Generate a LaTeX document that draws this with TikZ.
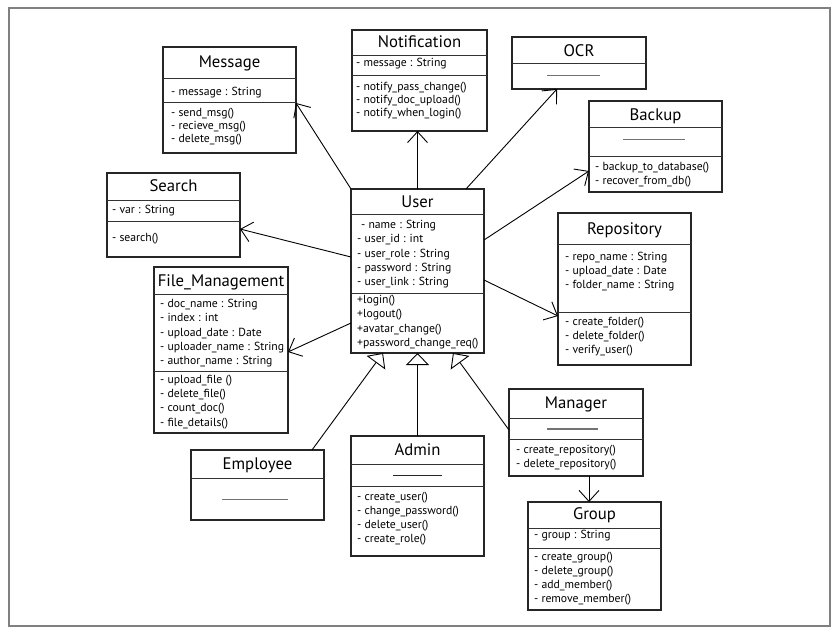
\documentclass[tikz,border=0pt]{standalone}
\usepackage{fontspec}
\setmainfont{PT Sans}
\usetikzlibrary{arrows.meta}
\begin{document}
\begin{tikzpicture}[x=1pt,y=-1pt,
  box/.style={draw=black!85,line width=1.1pt,inner sep=0pt,outer sep=0pt,anchor=north west},
  sepl/.style={draw=black!80,line width=1pt},
  blank/.style={draw=black!55,line width=1.4pt},
  blankdark/.style={draw=black!85,line width=1.1pt},
  frame/.style={draw=black!50,line width=2pt},
  ttl/.style={font=\fontsize{16.7}{20}\selectfont,anchor=base,inner sep=0pt},
  txt/.style={font=\fontsize{11.7}{13}\selectfont,anchor=base west,inner sep=0pt},
  assoc/.style={draw=black,line width=0.9pt,-{Straight Barb[length=11pt,width=20pt]}},
  gen/.style={draw=black,line width=0.9pt,-{Triangle[open,length=12pt,width=23pt,fill=white]}},
]
\useasboundingbox (0,0) rectangle (839,633);
\draw[frame] (8.5,8) rectangle (829.5,625.5);

% ---------- Message
\node[box,minimum width=133pt,minimum height=106pt] (msg) at (163,47) {};
\draw[sepl] (163,78) -- (296,78);
\draw[sepl] (163,102) -- (296,102);
\node[ttl] (msg-t) at (229.5,67.5) {Message};
\node[txt] (msg-a1) at (171,95) {- message : String};
\foreach \t [count=\i] in {- send\_msg(), - recieve\_msg(), - delete\_msg()}
  \node[txt] (msg-m\i) at (171,{116+13.2*(\i-1)}) {\t};

% ---------- Notification
\node[box,minimum width=135pt,minimum height=101pt] (notif) at (352,30) {};
\draw[sepl] (352,55) -- (487,55);
\draw[sepl] (352,75) -- (487,75);
\node[ttl] (notif-t) at (419.5,47.3) {Notification};
\node[txt] (notif-a1) at (356,66.7) {- message : String};
\foreach \t [count=\i] in {- notify\_pass\_change(), - notify\_doc\_upload(), - notify\_when\_login()}
  \node[txt] (notif-m\i) at (356,{90+13.4*(\i-1)}) {\t};

% ---------- OCR
\node[box,minimum width=134pt,minimum height=52pt] (ocr) at (512,37) {};
\draw[sepl] (512,63) -- (646,63);
\node[ttl] (ocr-t) at (579,56.7) {OCR};
\draw[blank] (547,75.7) -- (600,75.7);

% ---------- Backup
\node[box,minimum width=133pt,minimum height=91pt] (backup) at (589,101) {};
\draw[sepl] (589,127) -- (722,127);
\draw[sepl] (589,156) -- (722,156);
\node[ttl] (backup-t) at (655.5,120) {Backup};
\draw[blank] (623,139.3) -- (685,139.3);
\foreach \t [count=\i] in {- backup\_to\_database(), - recover\_from\_db()}
  \node[txt] (backup-m\i) at (595,{170+14.3*(\i-1)}) {\t};

% ---------- Search
\node[box,minimum width=133pt,minimum height=84pt] (search) at (107,173) {};
\draw[sepl] (107,200) -- (240,200);
\draw[sepl] (107,221) -- (240,221);
\node[ttl] (search-t) at (173.5,191.7) {Search};
\node[txt] (search-a1) at (112,213.3) {- var : String};
\node[txt] (search-m1) at (112,241.7) {- search()};

% ---------- User
\node[box,minimum width=133pt,minimum height=164pt] (user) at (351,189) {};
\draw[sepl] (351,214) -- (484,214);
\draw[sepl] (351,293) -- (484,293);
\node[ttl] (user-t) at (417.5,207.7) {User};
\node[txt] (user-a1) at (361,228.3) {- name : String};
\foreach \t [count=\i] in {- user\_id : int, - user\_role : String, - password : String, - user\_link : String}
  \node[txt] (user-a\i x) at (357,{242.7+14.3*(\i-1)}) {\t};
\foreach \t [count=\i] in {+login(), +logout(), +avatar\_change(), +password\_change\_req()}
  \node[txt] (user-m\i) at (357,{303.3+14.4*(\i-1)}) {\t};

% ---------- File_Management
\node[box,minimum width=134pt,minimum height=166pt] (file) at (154,267) {};
\draw[sepl] (154,294) -- (288,294);
\draw[sepl] (154,371) -- (288,371);
\node[ttl] (file-t) at (221,286.7) {File\_Management};
\foreach \t [count=\i] in {- doc\_name : String, - index : int, - upload\_date : Date, - uploader\_name : String, - author\_name : String}
  \node[txt] (file-a\i) at (160,{307.7+14.25*(\i-1)}) {\t};
\foreach \t [count=\i] in {- upload\_file (), - delete\_file(), - count\_doc(), - file\_details()}
  \node[txt] (file-m\i) at (160,{383.3+14.25*(\i-1)}) {\t};

% ---------- Repository
\node[box,minimum width=133pt,minimum height=152pt] (repo) at (558,213) {};
\draw[sepl] (558,244) -- (691,244);
\draw[sepl] (558,312) -- (691,312);
\node[ttl] (repo-t) at (624.5,234.3) {Repository};
\foreach \t [count=\i] in {- repo\_name : String, - upload\_date : Date, - folder\_name : String}
  \node[txt] (repo-a\i) at (565,{260+14.2*(\i-1)}) {\t};
\foreach \t [count=\i] in {- create\_folder(), - delete\_folder(), - verify\_user()}
  \node[txt] (repo-m\i) at (565,{325+14.2*(\i-1)}) {\t};

% ---------- Manager
\node[box,minimum width=134pt,minimum height=87pt] (manager) at (509,389) {};
\draw[sepl] (509,418) -- (643,418);
\draw[sepl] (509,439) -- (643,439);
\node[ttl] (manager-t) at (576,408.3) {Manager};
\draw[blank] (547,429) -- (598,429);
\foreach \t [count=\i] in {- create\_repository(), - delete\_repository()}
  \node[txt] (manager-m\i) at (516,{453.3+14.4*(\i-1)}) {\t};

% ---------- Group
\node[box,minimum width=133pt,minimum height=108pt] (group) at (528,502) {};
\draw[sepl] (528,528) -- (661,528);
\draw[sepl] (528,548) -- (661,548);
\node[ttl] (group-t) at (594.5,519.3) {Group};
\node[txt] (group-a1) at (534,538.3) {- group : String};
\foreach \t [count=\i] in {- create\_group(), - delete\_group(), - add\_member(), - remove\_member()}
  \node[txt] (group-m\i) at (534,{560+14.25*(\i-1)}) {\t};

% ---------- Admin
\node[box,minimum width=133pt,minimum height=120pt] (admin) at (351,436) {};
\draw[sepl] (351,464) -- (484,464);
\draw[sepl] (351,486) -- (484,486);
\node[ttl] (admin-t) at (417.5,455) {Admin};
\draw[blankdark] (393,475.7) -- (442,475.7);
\foreach \t [count=\i] in {- create\_user(), - change\_password(), - delete\_user(), - create\_role()}
  \node[txt] (admin-m\i) at (357,{500+14.25*(\i-1)}) {\t};

% ---------- Employee
\node[box,minimum width=133pt,minimum height=70pt] (employee) at (191,450) {};
\draw[sepl] (191,478) -- (324,478);
\node[ttl] (employee-t) at (257.5,469.3) {Employee};
\draw[blank] (222,499.3) -- (288,499.3);

% ---------- connectors
\draw[assoc] (user.north west) -- ([yshift=-56pt]msg.north east);
\draw[assoc] (user.north) -- (user.north |- notif.south);
\draw[assoc] ([xshift=-18pt]user.north east) -- ([xshift=45pt]ocr.south west);
\draw[assoc] ([yshift=-51pt]user.north east) -- ([yshift=-70pt]backup.north west);
\draw[assoc] ([yshift=-91pt]user.north east) -- ([yshift=-103pt]repo.north west);
\draw[assoc] ([yshift=-68pt]user.north west) -- ([yshift=-56pt]search.north east);
\draw[assoc] ([yshift=-134pt]user.north west) -- ([yshift=-85pt]file.north east);
\draw[assoc] ([xshift=80pt]manager.south west) -- ([xshift=61pt]group.north west);
\draw[gen] ([xshift=-12pt]employee.north east) -- ([xshift=32pt]user.south west);
\draw[gen] (admin.north) -- (user.south);
\draw[gen] ([yshift=-41pt]manager.north west) -- ([xshift=-31pt]user.south east);
\end{tikzpicture}
\end{document}
